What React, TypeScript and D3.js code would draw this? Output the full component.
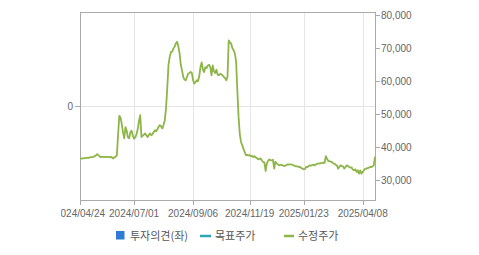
import React from "react";
import * as d3 from "d3";

const prices: number[] = [
  36500, 36550, 36600, 36650, 36700, 36750, 36800, 36800, 36900, 37000,
  37000, 37100, 37300, 37500, 37900, 37600, 37200, 37000, 37050, 37100,
  37000, 37050, 37100, 37000, 37000, 37050, 36900, 36600, 37000, 37100,
  37600, 44000, 49500, 49000, 47000, 44500, 42700, 46100, 45000, 43000,
  42700, 44600, 45000, 43500, 42600, 43000, 44000, 45500, 48000, 49700,
  43100, 43500, 43800, 44200, 43600, 43100, 43700, 44200, 43600, 44000,
  44600, 45150, 44800, 45500, 46200, 46700, 46300, 45700, 46800, 48200,
  52000, 58000, 65000, 67400, 68900, 69000, 69900, 70500, 71500, 72000,
  70600, 68500, 65000, 63300, 61300, 60500, 60300, 61300, 62300, 62500,
  62800, 62500, 60300, 59300, 59800, 60300, 60000, 61500, 64300, 65700,
  63500, 62800, 64300, 64000, 64800, 65000, 64300, 61800, 64800, 63000,
  62500, 63500, 62000, 61800, 62300, 62100, 61800, 61300, 61000, 60300,
  61300, 72400, 71800, 71400, 70000, 69400, 68400, 66000, 57300, 49200,
  44000, 41600, 40600, 39500, 38500, 37600, 37700, 37500, 37600, 37300,
  37400, 37000, 37300, 36900, 36700, 36300, 36500, 36600, 36000, 35500,
  35400, 32800, 35000, 35900, 36300, 36100, 36000, 36200, 33500, 35600,
  35100, 34800, 34500, 34700, 34600, 34500, 34300, 34400, 34600, 34800,
  34700, 34800, 34800, 34600, 34500, 34300, 34200, 34200, 34000, 34000,
  33700, 33500, 33300, 33400, 34000, 34000, 34300, 34500, 34400, 34600,
  34700, 34500, 34800, 35000, 35000, 35100, 35200, 35200, 35300, 35300,
  37300, 36500, 35800, 35800, 35600, 35500, 35100, 35000, 34700, 34500,
  33500, 34000, 34500, 34300, 34200, 33500, 34000, 34500, 34300, 34000,
  33800, 33900, 33200, 33000, 33300, 32500, 33000, 32000, 33000, 32000,
  32500, 33000, 33500, 33500, 33700, 33800, 34000, 34000, 34200, 34500,
  37100,
];

const xTickIndex: number[] = [0, 44, 92, 138, 182, 230];
const xTickLabels: string[] = [
  "2024/04/24",
  "2024/07/01",
  "2024/09/06",
  "2024/11/19",
  "2025/01/23",
  "2025/04/08",
];
const rightTicks: number[] = [30000, 40000, 50000, 60000, 70000, 80000];
const leftTicks: number[] = [0];
const legendLabels: string[] = ["투자의견(좌)", "목표주가", "수정주가"];

const W = 479;
const H = 255;
const L = 80;
const R = 375;
const T = 12;
const B = 200;

const axisColor = "#aaaaaa";
const gridColor = "#e6e6e6";
const textColor = "#666666";
const lineColor = "#8db548";
const numFont = "'Liberation Sans', Arial, sans-serif";
const krFont = "'Noto Sans CJK KR', 'Liberation Sans', sans-serif";

export default function App() {
  const x = d3.scaleLinear().domain([0, prices.length - 1]).range([L, R]);
  const y = d3.scaleLinear().domain([24000, 81000]).range([B, T]);
  const yLeft = d3.scaleLinear().domain([-1, 1]).range([B, T]);

  const line = d3
    .line<number>()
    .x((_, i) => x(i))
    .y((d) => y(d));

  return (
    <svg
      width={W}
      height={H}
      style={{ position: "absolute", left: 0, top: 0, background: "#fff" }}
    >
      <defs>
        <clipPath id="xlabclip">
          <rect x={61} y={0} width={W} height={H} />
        </clipPath>
      </defs>
      {xTickIndex.map((t, i) =>
        i === 0 ? null : (
          <line
            key={"vg" + i}
            x1={Math.round(x(t)) + 0.5}
            x2={Math.round(x(t)) + 0.5}
            y1={T}
            y2={B}
            stroke={gridColor}
          />
        )
      )}
      {leftTicks.map((t) => (
        <line
          key={"hg" + t}
          x1={L}
          x2={R}
          y1={Math.round(yLeft(t)) + 0.5}
          y2={Math.round(yLeft(t)) + 0.5}
          stroke={gridColor}
        />
      ))}
      <rect
        x={L + 0.5}
        y={T + 0.5}
        width={R - L}
        height={B - T}
        fill="none"
        stroke={axisColor}
      />
      <path
        d={line(prices) || ""}
        fill="none"
        stroke={lineColor}
        strokeWidth={1.8}
        strokeLinejoin="round"
      />
      {xTickIndex.map((t, i) => (
        <line
          key={"xt" + i}
          x1={Math.round(x(t)) + 0.5}
          x2={Math.round(x(t)) + 0.5}
          y1={B}
          y2={B + 5}
          stroke={axisColor}
        />
      ))}
      <g clipPath="url(#xlabclip)">
        {xTickIndex.map((t, i) => (
          <text
            key={"xl" + i}
            x={x(t)}
            y={B + 17}
            textAnchor="middle"
            fontSize={10}
            fontFamily={numFont}
            fill={textColor}
          >
            {xTickLabels[i]}
          </text>
        ))}
      </g>
      {rightTicks.map((t) => (
        <g key={"rt" + t}>
          <line
            x1={R}
            x2={R + 5}
            y1={Math.round(y(t)) + 0.5}
            y2={Math.round(y(t)) + 0.5}
            stroke={axisColor}
          />
          <text
            x={R + 6}
            y={y(t) + 3.5}
            fontSize={10}
            fontFamily={numFont}
            fill={textColor}
          >
            {d3.format(",")(t)}
          </text>
        </g>
      ))}
      {leftTicks.map((t) => (
        <g key={"lt" + t}>
          <line
            x1={L - 5}
            x2={L}
            y1={Math.round(yLeft(t)) + 0.5}
            y2={Math.round(yLeft(t)) + 0.5}
            stroke={axisColor}
          />
          <text
            x={L - 7}
            y={yLeft(t) + 3.5}
            textAnchor="end"
            fontSize={10}
            fontFamily={numFont}
            fill={textColor}
          >
            {t}
          </text>
        </g>
      ))}
      <rect x={116} y={231} width={8.5} height={8.5} fill="#2e7bd6" />
      <text x={130} y={240} fontSize={11} fontFamily={krFont} fill="#555">
        {legendLabels[0]}
      </text>
      <line x1={200} x2={211} y1={236} y2={236} stroke="#2aa8b8" strokeWidth={2.5} />
      <text x={215} y={240} fontSize={11} fontFamily={krFont} fill="#555">
        {legendLabels[1]}
      </text>
      <line x1={284} x2={294} y1={236} y2={236} stroke={lineColor} strokeWidth={2.5} />
      <text x={298} y={240} fontSize={11} fontFamily={krFont} fill="#555">
        {legendLabels[2]}
      </text>
    </svg>
  );
}
